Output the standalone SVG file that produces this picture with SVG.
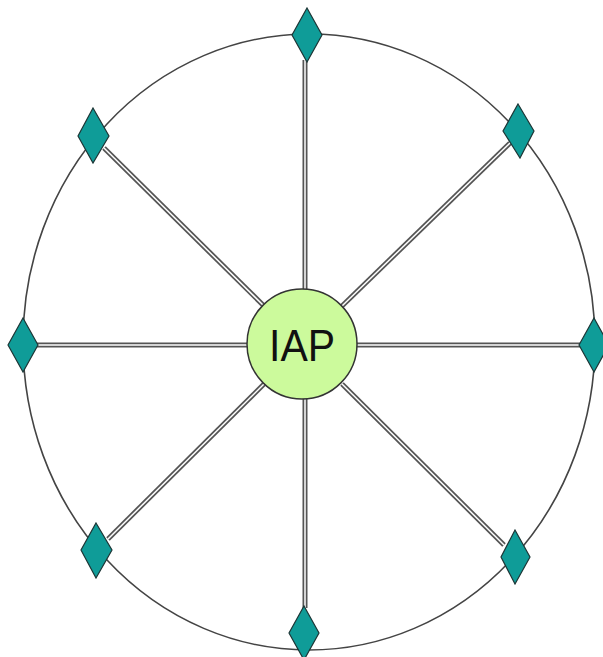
<svg xmlns="http://www.w3.org/2000/svg" width="603" height="657" viewBox="0 0 603 657">
<style>
.ring{fill:none;stroke:#444;stroke-width:1.6}
.so{stroke:#555;stroke-width:5;stroke-linecap:butt}
.si{stroke:#fff;stroke-width:1.5;stroke-linecap:butt}
.dia{fill:#0f9c98;stroke:#1c3535;stroke-width:1.2}
.hub{fill:#ccfa9c;stroke:#333;stroke-width:1.5}
.lbl{font-family:"Liberation Sans",Arial,sans-serif;font-size:44px;fill:#111;text-anchor:middle}
</style>
<rect width="603" height="657" fill="#fff"/>
<ellipse class="ring" cx="309" cy="342" rx="286" ry="308"/>
<g id="connectors">
<g class="so">
<line x1="305" y1="60" x2="305" y2="290"/>
<line x1="305" y1="398" x2="305" y2="608"/>
<line x1="36" y1="345" x2="249" y2="345"/>
<line x1="356" y1="345" x2="580" y2="345"/>
<line x1="104" y1="148" x2="264" y2="306"/>
<line x1="510" y1="143" x2="342" y2="306"/>
<line x1="108" y1="539" x2="264" y2="384"/>
<line x1="504" y1="545" x2="342" y2="384"/>
</g>
<g class="si">
<line x1="305" y1="60" x2="305" y2="290"/>
<line x1="305" y1="398" x2="305" y2="608"/>
<line x1="36" y1="345" x2="249" y2="345"/>
<line x1="356" y1="345" x2="580" y2="345"/>
<line x1="104" y1="148" x2="264" y2="306"/>
<line x1="510" y1="143" x2="342" y2="306"/>
<line x1="108" y1="539" x2="264" y2="384"/>
<line x1="504" y1="545" x2="342" y2="384"/>
</g>
</g>
<g id="iap">
<circle class="hub" cx="302" cy="344" r="55"/>
<text class="lbl" x="302" y="361" textLength="66" lengthAdjust="spacingAndGlyphs">IAP</text>
</g>
<g id="n-top"><polygon class="dia" points="307,8 322,35 307,62 292,35"/></g>
<g id="n-topright"><polygon class="dia" points="518,104 534,131 520,158 503,131"/></g>
<g id="n-right"><polygon class="dia" points="594,318 609,345 594,372 579,345"/></g>
<g id="n-bottomright"><polygon class="dia" points="515,530 530,557 515,584 501,557"/></g>
<g id="n-bottom"><polygon class="dia" points="304,606 319,633 304,660 289,633"/></g>
<g id="n-bottomleft"><polygon class="dia" points="96,523 112,550 96,578 81,550"/></g>
<g id="n-left"><polygon class="dia" points="23,318 38,345 23,372 8,345"/></g>
<g id="n-topleft"><polygon class="dia" points="93,108 109,136 93,163 78,136"/></g>
</svg>
